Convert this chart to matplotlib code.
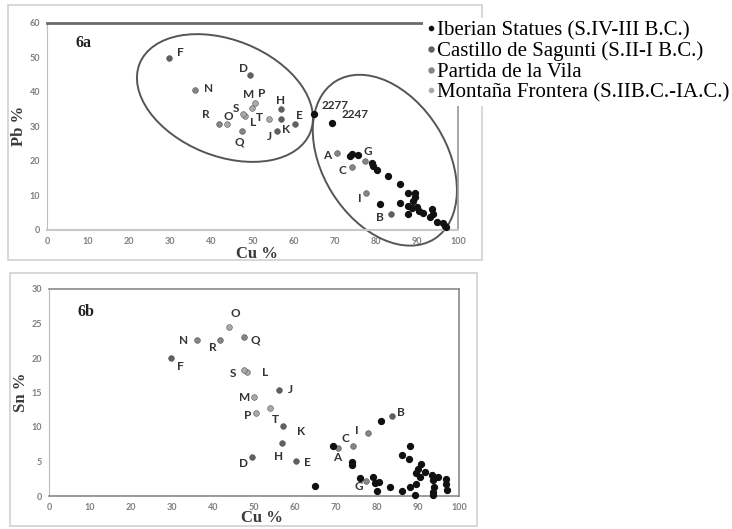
import matplotlib
matplotlib.use("Agg")
import matplotlib.pyplot as plt
from matplotlib.patches import Ellipse, Rectangle
from matplotlib.lines import Line2D
from matplotlib.transforms import ScaledTranslation

# Muestras con letra (mismo Cu en las dos graficas)
letras = ["A", "B", "C", "D", "E", "F", "G", "H", "I", "J",
          "K", "L", "M", "N", "O", "P", "Q", "R", "S", "T"]
cu_letras = [70.6, 83.7, 74.1, 49.4, 60.3, 29.8, 77.4, 56.9, 77.7, 56.0,
             57.0, 48.2, 49.9, 36.1, 43.8, 50.6, 47.5, 41.8, 47.6, 54.0]
pb_letras = [22.2, 4.6, 18.3, 44.8, 30.8, 49.8, 20.0, 34.9, 10.6, 28.6,
             32.1, 33.0, 35.2, 40.5, 30.6, 36.8, 28.7, 30.8, 33.5, 32.1]
sn_letras = [6.9, 11.6, 7.2, 5.6, 5.1, 20.0, 2.2, 7.7, 9.2, 15.4,
             10.1, 17.9, 14.3, 22.6, 24.5, 12.0, 23.0, 22.6, 18.2, 12.8]
grupo_letras = ["P", "C", "P", "C", "C", "C", "P", "C", "P", "C",
                "C", "M", "M", "P", "M", "M", "P", "P", "M", "M"]

# Estatuas ibericas (6a: Cu-Pb, 6b: Cu-Sn)
est_cu_a = [65.0, 69.4, 73.7, 74.2, 75.7, 79.0, 79.4, 80.2, 83.0, 86.0,
            87.9, 89.5, 89.5, 89.1, 81.0, 85.9, 87.9, 88.7, 90.1, 90.6,
            91.6, 87.9, 93.6, 93.8, 93.2, 94.8, 96.4, 96.8, 97.0]
est_pb_a = [33.5, 31.1, 21.4, 21.9, 21.7, 19.3, 18.5, 17.5, 15.6, 13.2,
            10.8, 10.6, 9.5, 8.4, 7.5, 7.9, 6.9, 6.3, 6.7, 5.6,
            5.0, 4.6, 6.0, 4.6, 3.7, 2.4, 1.9, 1.2, 0.9]
est_cu_b = [64.9, 69.3, 81.0, 73.8, 73.8, 75.9, 79.1, 79.4, 80.6, 79.9,
            83.2, 86.2, 88.0, 86.2, 87.9, 90.7, 89.9, 89.5, 91.7, 90.5,
            88.0, 89.5, 89.3, 93.3, 95.0, 93.7, 94.0, 93.7, 93.6, 96.8,
            96.8, 97.0]
est_sn_b = [1.5, 7.2, 10.9, 5.0, 4.5, 2.6, 2.7, 1.9, 2.1, 0.7,
            1.35, 0.7, 7.2, 5.9, 5.3, 4.7, 3.9, 3.4, 3.5, 2.8,
            1.35, 1.7, 0.15, 3.0, 2.8, 2.3, 1.3, 0.6, 0.15, 2.4,
            1.7, 0.9]

colores = {"I": "#111111", "C": "#606060", "P": "#858585", "M": "#a9a9a9"}
leyenda = [("I", "Iberian Statues (S.IV-III B.C.)"),
           ("C", "Castillo de Sagunti (S.II-I B.C.)"),
           ("P", "Partida de la Vila"),
           ("M", "Montaña Frontera (S.IIB.C.-IA.C.)")]

# desplazamiento de las etiquetas en pixeles (x derecha, y abajo)
off_a = {"A": (-10, 2), "B": (-11, 3), "C": (-9, 4), "D": (-7, -7), "E": (5, -8),
         "F": (11, -5), "G": (3, -9), "H": (0, -9), "I": (-7, 5), "J": (-8, 5),
         "K": (5, 10), "L": (8, 7), "M": (-3, -14), "N": (13, -2), "O": (1, -8),
         "P": (7, -9), "Q": (-3, 11), "R": (-13, -9), "S": (-7, -6), "T": (-10, -2)}
off_b = {"A": (-1, 9), "B": (9, -3), "C": (-7, -8), "D": (-8, 6), "E": (11, 2),
         "F": (9, 8), "G": (-8, 6), "H": (-4, 14), "I": (-11, -2), "J": (12, 0),
         "K": (18, 5), "L": (19, 0), "M": (-9, 0), "N": (-13, 0), "O": (7, -13),
         "P": (-9, 2), "Q": (12, 3), "R": (-8, 7), "S": (-11, 3), "T": (5, 12)}

W, H = 732, 529
fig = plt.figure(figsize=(W / 100, H / 100), dpi=100)

# marcos exteriores
for x0, y0, x1, y1 in [(8, 5, 482, 260), (10, 273, 477, 526)]:
    fig.patches.append(Rectangle((x0 / W, 1 - y1 / H), (x1 - x0) / W, (y1 - y0) / H,
                                 transform=fig.transFigure, fill=False,
                                 edgecolor="#d4d4d4", linewidth=1.3))

ax1 = fig.add_axes([47 / W, 1 - 230 / H, (458 - 47) / W, (230 - 22.7) / H])
ax2 = fig.add_axes([49 / W, 1 - 496 / H, (459 - 49) / W, (496 - 289) / H])

lab_font = dict(family="Lato", weight="bold", fontsize=8.5, color="#333333")
eje_font = dict(family="Liberation Serif", weight="bold", fontsize=12, color="#3a3a3a")


def dibujar(ax, yvals, est_cu, est_y, offs):
    for g in ["C", "P", "M"]:
        xs = [c for c, gg in zip(cu_letras, grupo_letras) if gg == g]
        ys = [v for v, gg in zip(yvals, grupo_letras) if gg == g]
        ax.scatter(xs, ys, s=17, color=colores[g], edgecolors="#555555",
                   linewidths=0.4, zorder=3, clip_on=False)
    ax.scatter(est_cu, est_y, s=18, color=colores["I"], zorder=4, clip_on=False)
    for l, c, v in zip(letras, cu_letras, yvals):
        dx, dy = offs[l]
        ax.annotate(l, (c, v), xytext=(dx, -dy), textcoords="offset pixels",
                    ha="center", va="center", **lab_font)
    ax.set_xlim(0, 100)
    ax.set_xticks(range(0, 101, 10))
    ax.tick_params(length=0, labelsize=6.5, labelcolor="#7f7f7f", pad=5)
    for t in ax.get_xticklabels() + ax.get_yticklabels():
        t.set_family("Lato")
        t.set_weight("bold")


# 6a
dibujar(ax1, pb_letras, est_cu_a, est_pb_a, off_a)
ax1.set_ylim(0, 60)
ax1.set_yticks(range(0, 61, 10))
ax1.spines["top"].set_color("#6a6a6a")
ax1.spines["top"].set_linewidth(2)
ax1.spines["right"].set_color("#999999")
ax1.spines["right"].set_linewidth(1.2)
ax1.spines["left"].set_color("#bdbdbd")
ax1.spines["bottom"].set_color("#c8c8c8")
ax1.spines["bottom"].set_linewidth(1.5)
ax1.annotate("2277", (est_cu_a[0], est_pb_a[0]), xytext=(7, 9),
             textcoords="offset pixels", ha="left", va="center", **lab_font)
ax1.annotate("2247", (est_cu_a[1], est_pb_a[1]), xytext=(9, 8),
             textcoords="offset pixels", ha="left", va="center", **lab_font)
ax1.text(0.07, 0.90, "6a", transform=ax1.transAxes, family="Liberation Serif",
         weight="bold", fontsize=11.5, color="#222222", va="center")
ax1.set_xlabel("Cu %", **eje_font)
ax1.xaxis.set_label_coords(0.51, -0.075)
ax1.set_ylabel("Pb %", labelpad=2, **eje_font)

# elipses (centro en datos, ejes en pulgadas)
for (cx, cy), w, h, ang in [((43.3, 38.2), 1.84, 1.16, -22),
                            ((82.2, 20.2), 1.86, 1.24, -58)]:
    tr = fig.dpi_scale_trans + ScaledTranslation(cx, cy, ax1.transData)
    ax1.add_patch(Ellipse((0, 0), w, h, angle=ang, transform=tr, fill=False,
                          edgecolor="#555555", linewidth=1.4, clip_on=False,
                          zorder=2))

# 6b
dibujar(ax2, sn_letras, est_cu_b, est_sn_b, off_b)
ax2.set_ylim(0, 30)
ax2.set_yticks(range(0, 31, 5))
for s in ["top", "right", "bottom"]:
    ax2.spines[s].set_color("#8a8a8a")
    ax2.spines[s].set_linewidth(1.2)
ax2.spines["left"].set_color("#bdbdbd")
ax2.text(0.07, 0.89, "6b", transform=ax2.transAxes, family="Liberation Serif",
         weight="bold", fontsize=11.5, color="#222222", va="center")
ax2.set_xlabel("Cu %", **eje_font)
ax2.xaxis.set_label_coords(0.52, -0.07)
ax2.set_ylabel("Sn %", labelpad=2, **eje_font)

# leyenda
handles = [Line2D([], [], marker="o", linestyle="none", markersize=3 if g in "IM" else 3.6,
                  color=colores[g]) for g, _ in leyenda]
leg = fig.legend(handles, [t for _, t in leyenda], loc="upper left",
                 bbox_to_anchor=(423 / W, 1 - 18 / H), frameon=True,
                 facecolor="white", edgecolor="none", framealpha=1,
                 prop={"family": "Liberation Serif", "size": 15},
                 handlelength=0.42, handletextpad=0.12, labelspacing=0.05,
                 borderpad=0.15, borderaxespad=0)
leg.set_zorder(10)

fig.savefig("out.png", dpi=100)
